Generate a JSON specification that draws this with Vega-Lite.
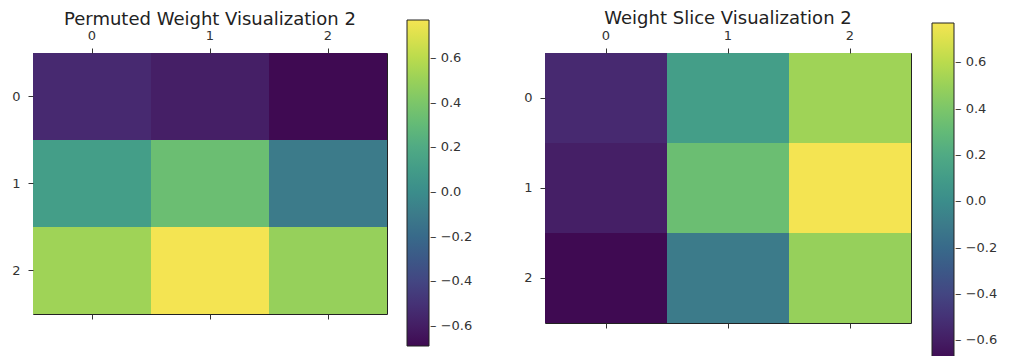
{
  "$schema": "https://vega.github.io/schema/vega-lite/v6.json",
  "padding": {"left": 11, "top": 9, "right": 0, "bottom": 0},
  "bounds": "flush",
  "spacing": 158,
  "config": {
    "font": "DejaVu Sans",
    "view": {"stroke": "#222", "strokeWidth": 1},
    "axis": {"labelFont": "DejaVu Sans", "labelFontSize": 13, "labelColor": "#333", "tickColor": "#333", "tickSize": 5, "domain": false, "grid": false, "title": null, "labelPadding": 6},
    "axisLeft": {"labelPadding": 8},
    "title": {"font": "DejaVu Sans", "fontSize": 18, "fontWeight": "normal", "color": "#222", "offset": -9},
    "legend": {"labelFont": "DejaVu Sans", "labelFontSize": 13, "labelColor": "#333"}
  },
  "datasets": {
    "perm": [
      {"row": 0, "col": 0, "value": -0.54}, {"row": 0, "col": 1, "value": -0.59}, {"row": 0, "col": 2, "value": -0.69},
      {"row": 1, "col": 0, "value": 0.11}, {"row": 1, "col": 1, "value": 0.33}, {"row": 1, "col": 2, "value": -0.1},
      {"row": 2, "col": 0, "value": 0.52}, {"row": 2, "col": 1, "value": 0.77}, {"row": 2, "col": 2, "value": 0.49}
    ],
    "slice": [
      {"row": 0, "col": 0, "value": -0.54}, {"row": 0, "col": 1, "value": 0.11}, {"row": 0, "col": 2, "value": 0.52},
      {"row": 1, "col": 0, "value": -0.59}, {"row": 1, "col": 1, "value": 0.33}, {"row": 1, "col": 2, "value": 0.77},
      {"row": 2, "col": 0, "value": -0.69}, {"row": 2, "col": 1, "value": -0.1}, {"row": 2, "col": 2, "value": 0.49}
    ]
  },
  "resolve": {"scale": {"color": "independent"}},
  "hconcat": [
    {
      "title": "Permuted Weight Visualization 2",
      "width": 354,
      "height": 261,
      "data": {"name": "perm"},
      "resolve": {"axis": {"x": "independent"}},
      "layer": [
        {
          "mark": {"type": "rect"},
          "encoding": {
            "x": {"field": "col", "type": "ordinal", "scale": {"paddingInner": 0, "paddingOuter": 0}, "axis": {"orient": "top", "labelAngle": 0}},
            "y": {"field": "row", "type": "ordinal", "scale": {"paddingInner": 0, "paddingOuter": 0}, "axis": {"orient": "left", "labelAngle": 0}},
            "color": {
              "field": "value", "type": "quantitative",
              "scale": {"domain": [-0.69, -0.544, -0.398, -0.252, -0.106, 0.04, 0.186, 0.332, 0.478, 0.624, 0.77], "range": ["#3f0a52", "#47286f", "#434682", "#3d6088", "#3d7a8a", "#409489", "#4ea885", "#6cbe72", "#92cf5c", "#c3dd4a", "#f4e452"]},
              "legend": {"type": "gradient", "title": null, "orient": "none", "legendX": 374, "legendY": -33, "direction": "vertical", "gradientLength": 326, "gradientThickness": 22, "gradientStrokeColor": "#222", "gradientStrokeWidth": 1, "values": [-0.6, -0.4, -0.2, 0, 0.2, 0.4, 0.6], "format": ".1f", "labelExpr": "'– ' + datum.label", "labelOffset": 1, "labelOverlap": false}
            }
          }
        },
        {
          "mark": {"type": "rect", "opacity": 0},
          "encoding": {
            "x": {"field": "col", "type": "ordinal", "axis": {"orient": "bottom", "labels": false}}
          }
        }
      ]
    },
    {
      "title": {"text": "Weight Slice Visualization 2", "offset": -5},
      "width": 366,
      "height": 270,
      "data": {"name": "slice"},
      "resolve": {"axis": {"x": "independent"}},
      "layer": [
        {
          "mark": {"type": "rect"},
          "encoding": {
            "x": {"field": "col", "type": "ordinal", "scale": {"paddingInner": 0, "paddingOuter": 0}, "axis": {"orient": "top", "labelAngle": 0}},
            "y": {"field": "row", "type": "ordinal", "scale": {"paddingInner": 0, "paddingOuter": 0}, "axis": {"orient": "left", "labelAngle": 0}},
            "color": {
              "field": "value", "type": "quantitative",
              "scale": {"domain": [-0.69, -0.544, -0.398, -0.252, -0.106, 0.04, 0.186, 0.332, 0.478, 0.624, 0.77], "range": ["#3f0a52", "#47286f", "#434682", "#3d6088", "#3d7a8a", "#409489", "#4ea885", "#6cbe72", "#92cf5c", "#c3dd4a", "#f4e452"]},
              "legend": {"type": "gradient", "title": null, "orient": "none", "legendX": 387, "legendY": -30, "direction": "vertical", "gradientLength": 338, "gradientThickness": 22, "gradientStrokeColor": "#222", "gradientStrokeWidth": 1, "values": [-0.6, -0.4, -0.2, 0, 0.2, 0.4, 0.6], "format": ".1f", "labelExpr": "'– ' + datum.label", "labelOffset": 1, "labelOverlap": false}
            }
          }
        },
        {
          "mark": {"type": "rect", "opacity": 0},
          "encoding": {
            "x": {"field": "col", "type": "ordinal", "axis": {"orient": "bottom", "labels": false}}
          }
        }
      ]
    }
  ]
}
